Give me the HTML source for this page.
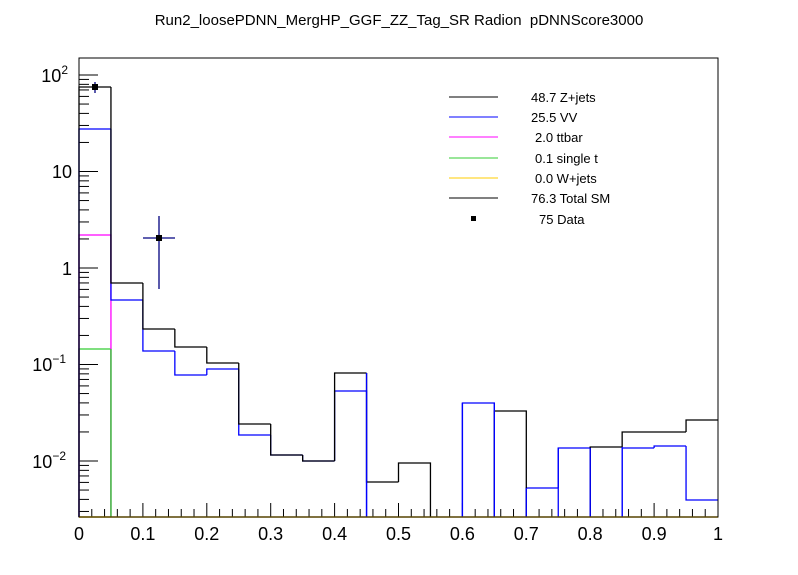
<!DOCTYPE html>
<html><head><meta charset="utf-8"><style>body{margin:0;background:#fff}svg{display:block}</style></head><body>
<svg width="798" height="575" xmlns="http://www.w3.org/2000/svg" font-family="Liberation Sans, sans-serif">
<rect width="798" height="575" fill="#fff"/>
<text x="399" y="25" text-anchor="middle" font-size="15">Run2_loosePDNN_MergHP_GGF_ZZ_Tag_SR Radion&#160; pDNNScore3000</text>
<g id="ticks" stroke="#000" stroke-width="1"></g>
<g id="hist" fill="none" stroke-width="1.3"></g>
<rect x="79" y="58" width="639" height="459" fill="none" stroke="#000" stroke-width="1"/>
<g font-size="18" text-anchor="end">
<text x="68" y="82">10<tspan font-size="12" dy="-8">2</tspan></text>
<text x="72" y="178">10</text>
<text x="72" y="275">1</text>
<text x="66" y="371">10<tspan font-size="12" dy="-8">−1</tspan></text>
<text x="66" y="468">10<tspan font-size="12" dy="-8">−2</tspan></text>
</g>
<g font-size="18" text-anchor="middle" id="xl"></g>
<g font-size="13">
<line x1="449" y1="97" x2="498" y2="97" stroke="#000"/><text x="531" y="102">48.7 Z+jets</text>
<line x1="449" y1="117" x2="498" y2="117" stroke="#00f"/><text x="531" y="122">25.5 VV</text>
<line x1="449" y1="137" x2="498" y2="137" stroke="#f0f"/><text x="535" y="142">2.0 ttbar</text>
<line x1="449" y1="158" x2="498" y2="158" stroke="#3c3"/><text x="535" y="163">0.1 single t</text>
<line x1="449" y1="178" x2="498" y2="178" stroke="#fc0"/><text x="535" y="183">0.0 W+jets</text>
<line x1="449" y1="198" x2="498" y2="198" stroke="#000"/><text x="531" y="203">76.3 Total SM</text>
<rect x="471" y="216" width="5" height="5" fill="#000"/><text x="539" y="224">75 Data</text>
</g>
<g stroke="#000080" stroke-width="1.3">
<line x1="95" y1="82" x2="95" y2="93"/>
<line x1="143" y1="238" x2="175" y2="238"/><line x1="159" y1="216" x2="159" y2="289"/>
</g>
<rect x="92" y="84" width="6" height="6" fill="#000"/>
<rect x="156" y="235" width="6" height="6" fill="#000"/>
</svg>
<script>
const ns="http://www.w3.org/2000/svg";
const t=document.getElementById('ticks'),h=document.getElementById('hist'),xl=document.getElementById('xl');
function L(g,x1,y1,x2,y2,c,w){const l=document.createElementNS(ns,'line');l.setAttribute('x1',x1);l.setAttribute('y1',y1);l.setAttribute('x2',x2);l.setAttribute('y2',y2);if(c)l.setAttribute('stroke',c);if(w)l.setAttribute('stroke-width',w);g.appendChild(l);}
const Y=v=>268-96.5*Math.log10(v);
for(let d=-3;d<=2;d++)for(let m=1;m<=9;m++){const y=Y(m*Math.pow(10,d));if(y<58||y>517)continue;L(t,79,y,m==1?98:89,y);}
const X=f=>79+639*f;
for(let i=0;i<=50;i++){const x=X(i/50);L(t,x,517,x,i%5==0?503:509);}
for(let i=0;i<=10;i++){const tx=document.createElementNS(ns,'text');tx.setAttribute('x',X(i/10));tx.setAttribute('y',540);tx.textContent=i==0?'0':i==10?'1':'0.'+i;xl.appendChild(tx);}
const B=517;
function step(vals,c){let d='';for(let i=0;i<20;i++){const v=vals[i];if(v==null)continue;const x0=X(i*0.05),x1=X((i+1)*0.05);const pl=i>0?vals[i-1]:null;const pv=pl==null?B:pl;d+=`M${x0},${pv}L${x0},${v}L${x1},${v}`;const nx=vals[i+1];if(nx==null||i==19)d+=`L${x1},${i==19?(v):B}`;}
const p=document.createElementNS(ns,'path');p.setAttribute('d',d);p.setAttribute('stroke',c);h.appendChild(p);}
step([517],'#fc0');
step([349],'#3c3');
step([235],'#f0f');
step([129,300,351,375,369,435,455,461,391,null,null,null,403,null,488,448,null,448,446,500],'#00f');
step([87,283,329,347,363,424,455,461,373,482,463,null,null,411,null,null,447,432,432,420],'#000');
L(h,X(0.05),349,X(0.05),517,'#3c3');
L(h,X(0.6),403,X(0.6),517,'#00f');
L(h,X(0.65),403,X(0.65),517,'#00f');
L(h,X(0.7),488,X(0.7),517,'#00f');
L(h,X(0.75),448,X(0.75),517,'#00f');
L(h,X(0.8),448,X(0.8),517,'#00f');
L(h,X(0.85),447,X(0.85),517,'#00f');
L(h,X(0.45),373,X(0.45),517,'#00f');
L(h,79,517,718,517,'#fc0',1.5);
</script>
</body></html>
